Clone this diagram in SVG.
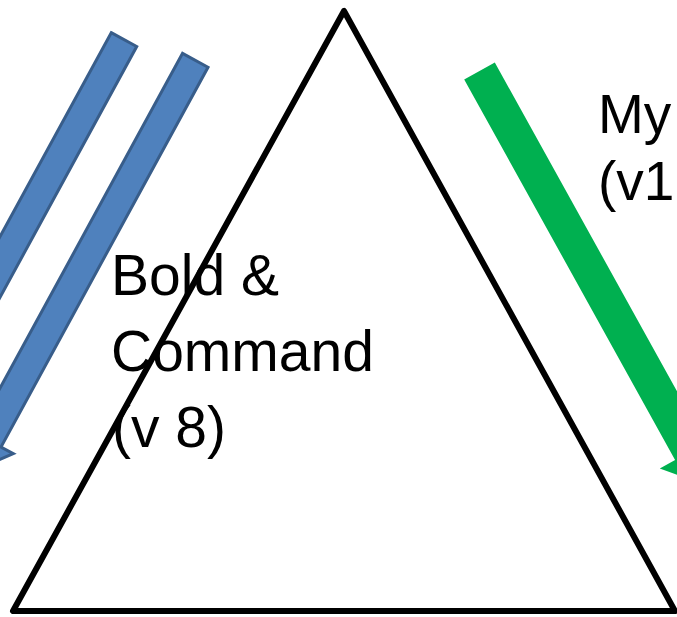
<svg xmlns="http://www.w3.org/2000/svg" width="677" height="617" viewBox="0 0 677 617">
  <style>
    .blue { fill: #4F81BD; stroke: #385D8A; stroke-width: 3; stroke-linejoin: miter; }
    .green { fill: #00B050; stroke: none; }
    .tri { fill: none; stroke: #000000; stroke-width: 6; stroke-linejoin: round; }
    .lbl { font-family: "Liberation Sans", Arial, sans-serif; fill: #000000; }
  </style>
  <defs>
    <path id="blueArrow" d="M -14.5,1.5 L 14.5,1.5 L 14.5,434 L 28.5,434 L 0,470 L -28.5,434 L -14.5,434 Z"/>
  </defs>
  <rect width="677" height="617" fill="#FFFFFF"/>
  <g id="connectors">
    <g id="blue-arrow-1" transform="translate(124.7,38.3) rotate(28.6)">
      <use href="#blueArrow" class="blue"/>
    </g>
    <g id="blue-arrow-2" transform="translate(196,59) rotate(28.6)">
      <use href="#blueArrow" class="blue"/>
    </g>
    <g id="green-arrow" transform="translate(479.5,71) rotate(-29)">
      <path class="green" d="M -17.5,0 L 17.5,0 L 17.5,435 L 35,435 L 0,475 L -35,435 L -17.5,435 Z"/>
    </g>
  </g>
  <g id="triangle">
    <polygon class="tri" points="344,11 13,611 675,611"/>
  </g>
  <g id="label-bold-command">
    <text class="lbl" font-size="57" x="111" y="295">Bold &amp;</text>
    <text class="lbl" font-size="57" x="111" y="371">Command</text>
    <text class="lbl" font-size="57" x="112" y="447">(v 8)</text>
  </g>
  <g id="label-my">
    <text class="lbl" font-size="55" x="598" y="133">My</text>
    <text class="lbl" font-size="55" x="598" y="200">(v1</text>
  </g>
</svg>
